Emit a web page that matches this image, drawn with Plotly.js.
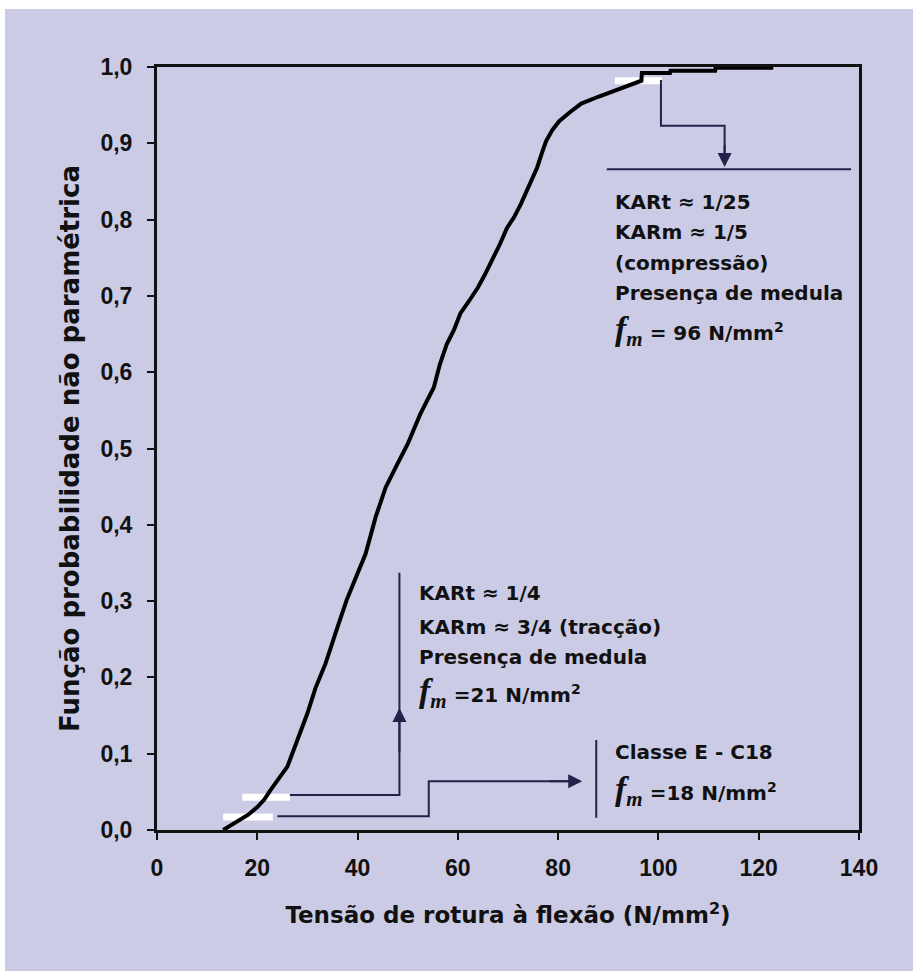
<!DOCTYPE html>
<html>
<head>
<meta charset="utf-8">
<script src="https://cdn.plot.ly/plotly-3.0.1.min.js"></script>
<style>
  html, body { margin: 0; padding: 0; background: #ffffff; }
  #chart { position: absolute; left: 5px; top: 9px; width: 908px; height: 962px; }
</style>
</head>
<body>
<div id="chart"></div>
<script>
// ECDF of bending strength
const tensao = [13.2, 14.5, 16.6, 18.2, 20, 21.4, 22.6, 24.2, 26, 28, 30, 31.6, 33.6, 35.8, 37.8, 39.6, 41.6, 43.6, 45.6, 47.8, 50, 52.5, 55.2, 56.4, 57.8, 59.2, 60.5, 62.2, 64, 65.4, 66.8, 68.4, 69.8, 71.2, 72.6, 74.4, 75.8, 76.8, 77.6, 78.8, 80.2, 82.4, 84.6, 88, 91.2, 94, 96.6, 96.7, 102.3, 102.4, 111.3, 111.4, 122.9];
const probabilidade = [0, 0.005, 0.013, 0.02, 0.03, 0.04, 0.052, 0.066, 0.083, 0.118, 0.153, 0.186, 0.218, 0.262, 0.301, 0.33, 0.362, 0.41, 0.449, 0.478, 0.506, 0.545, 0.58, 0.61, 0.637, 0.655, 0.677, 0.693, 0.711, 0.728, 0.746, 0.768, 0.789, 0.803, 0.821, 0.846, 0.868, 0.888, 0.903, 0.917, 0.929, 0.941, 0.952, 0.961, 0.969, 0.976, 0.982, 0.992, 0.992, 0.995, 0.995, 0.999, 0.999];

const xTicks = [0, 20, 40, 60, 80, 100, 120, 140];
const yTicks = [0, 0.1, 0.2, 0.3, 0.4, 0.5, 0.6, 0.7, 0.8, 0.9, 1.0];
const yTickText = ['0,0', '0,1', '0,2', '0,3', '0,4', '0,5', '0,6', '0,7', '0,8', '0,9', '1,0'];

const xTitle = 'Tensão de rotura à flexão (N/mm<sup>2</sup>)';
const yTitle = 'Função probabilidade não paramétrica';

// annotation text blocks
const fm = (v) => '<span style="font-family:\'Liberation Serif\',serif;font-size:34px"><b><i>f</i></b></span>' +
                  '<span style="font-family:\'Liberation Serif\',serif;font-size:30px"><sub><b><i>m</i></b></sub></span> ' + v + ' N/mm<sup>2</sup>';
const blockTop = ['KARt ≈ 1/25', 'KARm ≈ 1/5', '(compressão)', 'Presença de medula', fm('= 96')];
const blockTopY = [0.823, 0.784, 0.743, 0.704, 0.655];
const blockMid = ['KARt ≈ 1/4', 'KARm ≈ 3/4 (tracção)', 'Presença de medula', fm('=21')];
const blockMidY = [0.311, 0.266, 0.227, 0.180];
const blockBot = ['Classe E - C18', fm('=18')];
const blockBotY = [0.102, 0.052];

const txtFont = {family: 'DejaVu Sans, Verdana, sans-serif', size: 20, color: '#111111'};
const lineCol = '#22224a';

const annotations = [];
function addBlock(lines, ys, x) {
  lines.forEach((t, i) => annotations.push({
    x: x, y: ys[i], xref: 'x', yref: 'y', text: '<b>' + t + '</b>', showarrow: false,
    xanchor: 'left', yanchor: 'middle', font: txtFont
  }));
}
addBlock(blockTop, blockTopY, 90.9);
addBlock(blockMid, blockMidY, 51.9);
addBlock(blockBot, blockBotY, 90.9);

// arrowheads
function arrow(x, y, ax, ay) {
  annotations.push({x: x, y: y, ax: ax, ay: ay, xref: 'x', yref: 'y', axref: 'x', ayref: 'y',
    text: '', showarrow: true, arrowhead: 2, arrowsize: 1.4, arrowwidth: 2, arrowcolor: lineCol});
}
arrow(48.35, 0.16, 48.35, 0.10);
arrow(84.8, 0.064, 78, 0.064);
arrow(113.2, 0.869, 113.2, 0.9);

const shapes = [
  // white highlight marks
  {type: 'line', x0: 17, x1: 26.5, y0: 0.043, y1: 0.043, line: {color: '#ffffff', width: 7}, layer: 'below'},
  {type: 'line', x0: 13.2, x1: 23.1, y0: 0.017, y1: 0.017, line: {color: '#ffffff', width: 7}, layer: 'below'},
  {type: 'line', x0: 91.3, x1: 100.7, y0: 0.982, y1: 0.982, line: {color: '#ffffff', width: 7}, layer: 'below'},
  // connectors
  {type: 'path', path: 'M 26.5 0.046 L 48.35 0.046 L 48.35 0.337', line: {color: lineCol, width: 2}},
  {type: 'path', path: 'M 24 0.018 L 54.2 0.018 L 54.2 0.064 L 83 0.064', line: {color: lineCol, width: 2}},
  {type: 'line', x0: 87.6, x1: 87.6, y0: 0.016, y1: 0.118, line: {color: lineCol, width: 2}},
  {type: 'path', path: 'M 100.5 0.983 L 100.5 0.923 L 113.2 0.923 L 113.2 0.88', line: {color: lineCol, width: 2}},
  {type: 'line', x0: 89.7, x1: 138.4, y0: 0.866, y1: 0.866, line: {color: lineCol, width: 2}}
];

const trace = {
  x: tensao, y: probabilidade, type: 'scatter', mode: 'lines',
  line: {color: '#000000', width: 4}, hoverinfo: 'skip'
};

const tickFont = {family: 'Liberation Sans Narrow, Arial Narrow, Liberation Sans, sans-serif', size: 23, color: '#111111', weight: 'bold'};
const xTitleFont = {family: 'DejaVu Sans, Verdana, sans-serif', size: 23, color: '#111111', weight: 'bold'};
const yTitleFont = {family: 'DejaVu Sans, Verdana, sans-serif', size: 26, color: '#111111', weight: 'bold'};

const layout = {
  width: 908, height: 962,
  margin: {l: 152, r: 54, t: 58, b: 141},
  paper_bgcolor: '#cbcbe5', plot_bgcolor: '#cbcbe5',
  showlegend: false,
  separators: ',.',
  xaxis: {
    range: [0, 140], tickvals: xTicks, ticks: 'outside', ticklen: 7, tickwidth: 2, tickcolor: '#111',
    showline: true, linecolor: '#111', linewidth: 3, mirror: true, showgrid: false, zeroline: false,
    tickfont: tickFont, ticklabelstandoff: 8,
    title: {text: xTitle, font: xTitleFont, standoff: 28}
  },
  yaxis: {
    range: [0, 1], tickvals: yTicks, ticktext: yTickText, ticks: 'outside', ticklen: 7, tickwidth: 2, tickcolor: '#111',
    showline: true, linecolor: '#111', linewidth: 3, mirror: true, showgrid: false, zeroline: false,
    tickfont: tickFont, ticklabelstandoff: 10,
    title: {text: yTitle, font: yTitleFont, standoff: 14}
  },
  shapes: shapes,
  annotations: annotations
};

Plotly.newPlot('chart', [trace], layout, {displayModeBar: false, staticPlot: true});
</script>
</body>
</html>
